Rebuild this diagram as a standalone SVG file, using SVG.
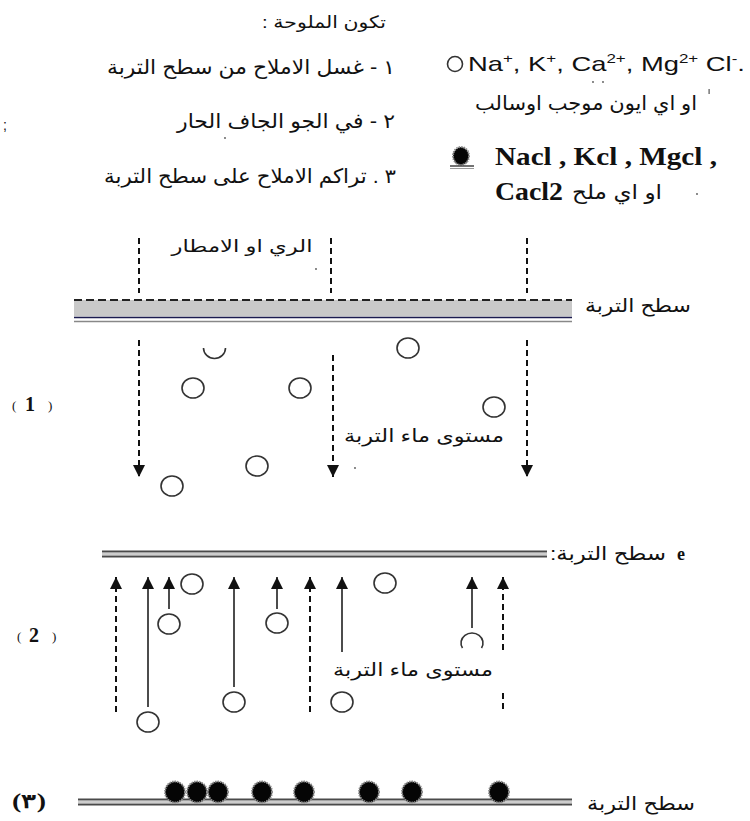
<svg xmlns="http://www.w3.org/2000/svg" width="750" height="821" viewBox="0 0 750 821">
  <style>
    .ar { font-family: "Liberation Sans", "DejaVu Sans", sans-serif; fill: #111; direction: rtl; text-anchor: middle; }
    .lat { font-family: "Liberation Sans", "DejaVu Sans", sans-serif; fill: #111; }
    .ser { font-family: "Liberation Serif", "DejaVu Serif", serif; fill: #111; }
    .ion { fill: none; stroke: #333; stroke-width: 1.6; }
    .salt { fill: #050505; stroke: #8a8a8a; stroke-width: 2; stroke-dasharray: 1.5 1; }
    .drop { stroke: #111; stroke-width: 2; stroke-dasharray: 6 4; fill: none; }
    .rise { stroke: #111; stroke-width: 1.5; fill: none; }
    .dark { stroke: #4a4a4a; stroke-width: 2.2; }
    .light { stroke: #bdbdbd; stroke-width: 1.3; }
    .speck { fill: #555; }
  </style>
  <defs>
    <marker id="head" markerUnits="userSpaceOnUse" markerWidth="13" markerHeight="13" refX="12" refY="6" orient="auto">
      <path d="M0,0 L12,6 L0,12 Z" fill="#111"/>
    </marker>
  </defs>
  <rect width="750" height="821" fill="#fff"/>

  <!-- heading and list of causes -->
  <g id="heading">
    <text class="ar" x="324" y="28" font-size="17" textLength="124" lengthAdjust="spacingAndGlyphs">تكون الملوحة :</text>
    <text class="ar" x="251" y="74" font-size="20" textLength="288" lengthAdjust="spacingAndGlyphs">١ - غسل الاملاح من سطح التربة</text>
    <text class="ar" x="286" y="128" font-size="20" textLength="218" lengthAdjust="spacingAndGlyphs">٢ - في الجو الجاف الحار</text>
    <text class="ar" x="250" y="183" font-size="20" textLength="292" lengthAdjust="spacingAndGlyphs">٣ . تراكم الاملاح على سطح التربة</text>
    <text class="lat" x="3" y="130" font-size="14">;</text>
  </g>

  <!-- legend: ions -->
  <g id="legend-ions">
    <ellipse class="ion" cx="455" cy="64" rx="7.5" ry="7.5"/>
    <text class="lat" x="468" y="71" font-size="21" textLength="277" lengthAdjust="spacingAndGlyphs">Na<tspan font-size="13" dy="-8">+</tspan><tspan dy="8">, K</tspan><tspan font-size="13" dy="-8">+</tspan><tspan dy="8">, Ca</tspan><tspan font-size="13" dy="-8">2+</tspan><tspan dy="8">, Mg</tspan><tspan font-size="13" dy="-8">2+</tspan><tspan dy="8"> Cl</tspan><tspan font-size="13" dy="-8">-</tspan><tspan dy="8">.</tspan></text>
    <text class="ar" x="586" y="110" font-size="20" textLength="222" lengthAdjust="spacingAndGlyphs">او اي ايون موجب اوسالب</text>
  </g>

  <!-- legend: salts -->
  <g id="legend-salts">
    <ellipse class="salt" cx="461" cy="156" rx="8" ry="9"/>
    <line x1="450" y1="166" x2="474" y2="166" stroke="#444" stroke-width="1.5"/>
    <line x1="450" y1="168.5" x2="474" y2="168.5" stroke="#999" stroke-width="1"/>
    <text class="ser" x="495" y="165" font-size="25" font-weight="bold" textLength="222" lengthAdjust="spacingAndGlyphs">Nacl , Kcl , Mgcl ,</text>
    <text class="ser" x="495" y="200" font-size="25" font-weight="bold" textLength="68" lengthAdjust="spacingAndGlyphs">Cacl2</text>
    <text class="ar" x="617" y="199" font-size="20" textLength="90" lengthAdjust="spacingAndGlyphs">او اي ملح</text>
  </g>

  <!-- small stray marks -->
  <g id="specks">
    <circle class="speck" cx="593" cy="82" r="0.9"/>
    <circle class="speck" cx="603" cy="82" r="0.9"/>
    <rect class="speck" x="708.5" y="89" width="1.2" height="5"/>
    <circle class="speck" cx="697" cy="194" r="0.9"/>
    <circle class="speck" cx="225" cy="138" r="0.9"/>
    <circle class="speck" cx="316" cy="269" r="0.9"/>
    <circle class="speck" cx="355" cy="468" r="0.9"/>
  </g>

  <!-- stage 1: leaching by irrigation or rain -->
  <g id="stage-1">
    <text class="ar" x="242" y="252" font-size="17" textLength="141" lengthAdjust="spacingAndGlyphs">الري او الامطار</text>
    <rect x="74" y="300" width="498" height="16.5" fill="#c9c9c9"/>
    <line x1="74" y1="300" x2="572" y2="300" stroke="#222" stroke-width="2" stroke-dasharray="8 4"/>
    <line x1="74" y1="317.5" x2="572" y2="317.5" stroke="#1c1c50" stroke-width="1.5"/>
    <line x1="74" y1="321.5" x2="572" y2="321.5" stroke="#888" stroke-width="1.5"/>
    <text class="ar" x="638" y="312" font-size="19" textLength="106" lengthAdjust="spacingAndGlyphs">سطح التربة</text>
    <text class="ser" x="12" y="410" font-size="13">(</text>
    <text class="ser" x="25" y="411" font-size="20" font-weight="bold">1</text>
    <text class="ser" x="48" y="410" font-size="13">)</text>
    <path class="ion" d="M203.5,348 A11,10.5 0 0 0 225.5,348"/>
    <ellipse class="ion" cx="408" cy="348" rx="11" ry="10"/>
    <ellipse class="ion" cx="193" cy="388" rx="11" ry="10"/>
    <ellipse class="ion" cx="300" cy="388" rx="11" ry="10"/>
    <ellipse class="ion" cx="494" cy="407" rx="11" ry="10"/>
    <ellipse class="ion" cx="257" cy="466" rx="11" ry="10"/>
    <ellipse class="ion" cx="172" cy="486" rx="11" ry="10"/>
    <text class="ar" x="424" y="442" font-size="18" textLength="160" lengthAdjust="spacingAndGlyphs">مستوى ماء التربة</text>
  </g>

  <!-- stage 2: capillary rise in a hot dry climate -->
  <g id="stage-2">
    <line class="dark" x1="102" y1="551.5" x2="547" y2="551.5"/>
    <line class="light" x1="102" y1="554" x2="547" y2="554"/>
    <line class="dark" x1="102" y1="556.5" x2="547" y2="556.5"/>
    <text class="ar" x="608" y="560" font-size="19" textLength="116" lengthAdjust="spacingAndGlyphs">سطح التربة:</text>
    <text class="ser" x="677" y="560" font-size="18" font-weight="bold">e</text>
    <text class="ser" x="17" y="641" font-size="13">(</text>
    <text class="ser" x="29" y="642" font-size="20" font-weight="bold">2</text>
    <text class="ser" x="52" y="641" font-size="13">)</text>
    <ellipse class="ion" cx="192" cy="584" rx="11" ry="10"/>
    <ellipse class="ion" cx="385" cy="583" rx="11" ry="10"/>
    <ellipse class="ion" cx="169" cy="624" rx="11" ry="10"/>
    <ellipse class="ion" cx="277" cy="623" rx="11" ry="10"/>
    <path class="ion" d="M462.5,648 A11,10 0 1 1 481.5,648"/>
    <ellipse class="ion" cx="234" cy="702" rx="11" ry="10"/>
    <ellipse class="ion" cx="342" cy="702" rx="11" ry="10"/>
    <ellipse class="ion" cx="148" cy="722" rx="11" ry="10"/>
    <text class="ar" x="413" y="676" font-size="18" textLength="160" lengthAdjust="spacingAndGlyphs">مستوى ماء التربة</text>
  </g>

  <!-- stage 3: salt crust on the surface -->
  <g id="stage-3">
    <text class="ser" x="12" y="808" font-size="20" font-weight="bold" textLength="34" lengthAdjust="spacingAndGlyphs">(٣)</text>
    <line class="dark" x1="78" y1="799.5" x2="572" y2="799.5"/>
    <line class="light" x1="78" y1="802" x2="572" y2="802"/>
    <line class="dark" x1="78" y1="804.5" x2="572" y2="804.5"/>
    <ellipse class="salt" cx="175" cy="792" rx="10" ry="10.5"/>
    <ellipse class="salt" cx="197" cy="792" rx="10" ry="10.5"/>
    <ellipse class="salt" cx="218" cy="792" rx="10" ry="10.5"/>
    <ellipse class="salt" cx="262" cy="792" rx="10" ry="10.5"/>
    <ellipse class="salt" cx="304" cy="792" rx="10" ry="10.5"/>
    <ellipse class="salt" cx="369" cy="792" rx="10" ry="10.5"/>
    <ellipse class="salt" cx="412" cy="792" rx="10" ry="10.5"/>
    <ellipse class="salt" cx="499" cy="792" rx="10" ry="10.5"/>
    <text class="ar" x="641" y="810" font-size="19" textLength="108" lengthAdjust="spacingAndGlyphs">سطح التربة</text>
  </g>

  <!-- water movement -->
  <g id="connectors">
    <line class="drop" x1="139" y1="238" x2="139" y2="293"/>
    <line class="drop" x1="331" y1="238" x2="331" y2="293"/>
    <line class="drop" x1="527" y1="238" x2="527" y2="293"/>
    <line class="drop" x1="139" y1="340" x2="139" y2="477" marker-end="url(#head)"/>
    <line class="drop" x1="333" y1="355" x2="333" y2="477" marker-end="url(#head)"/>
    <line class="drop" x1="527" y1="340" x2="527" y2="477" marker-end="url(#head)"/>

    <line class="drop" x1="116" y1="712" x2="116" y2="577" marker-end="url(#head)"/>
    <line class="drop" x1="310" y1="712" x2="310" y2="577" marker-end="url(#head)"/>
    <line class="drop" x1="503" y1="650" x2="503" y2="577" marker-end="url(#head)"/>
    <line class="drop" x1="503" y1="693" x2="503" y2="712"/>
    <line class="rise" x1="148" y1="707" x2="148" y2="577" marker-end="url(#head)"/>
    <line class="rise" x1="169" y1="609" x2="169" y2="577" marker-end="url(#head)"/>
    <line class="rise" x1="234" y1="687" x2="234" y2="577" marker-end="url(#head)"/>
    <line class="rise" x1="277" y1="609" x2="277" y2="577" marker-end="url(#head)"/>
    <line class="rise" x1="342" y1="652" x2="342" y2="577" marker-end="url(#head)"/>
    <line class="rise" x1="472" y1="628" x2="472" y2="577" marker-end="url(#head)"/>
  </g>
</svg>
